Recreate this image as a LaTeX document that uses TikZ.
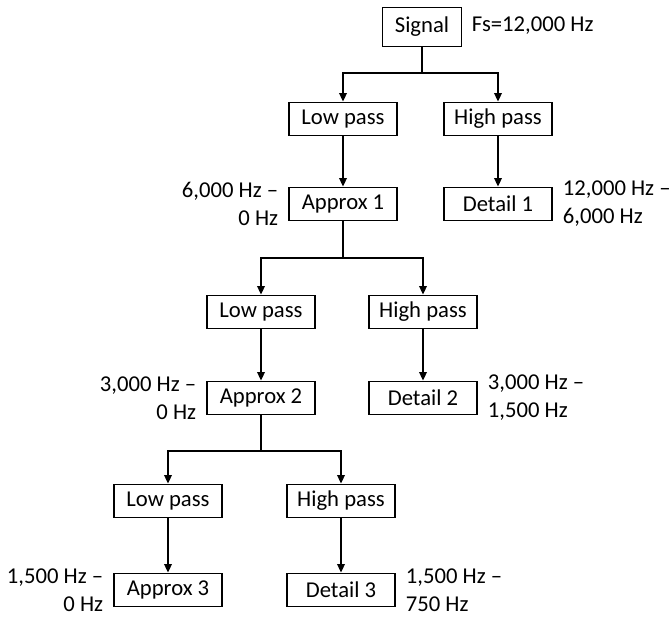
\documentclass[tikz,border=0pt]{standalone}
\usepackage{fontspec}
\setmainfont{Carlito}
\usetikzlibrary{arrows.meta}

\begin{document}
\begin{tikzpicture}[x=0.75pt, y=-0.75pt,
	every node/.style={font=\fontsize{17}{21}\selectfont},
	box/.style={draw, line width=0.9pt, minimum width=81pt, minimum height=25pt, inner sep=0pt},
	wire/.style={line width=1.8pt, -{Triangle[length=6.5pt, width=5.5pt]}},
	freq/.style={align=#1, inner sep=0pt}]
	\useasboundingbox (0,0) rectangle (671,618);
	% tree of filters
	\node[draw, line width=0.9pt, inner xsep=9pt, minimum height=29pt] (sig) at (422,27) {Signal};
	\node[box] (lp1) at (343,119) {Low pass};
	\node[box] (hp1) at (498,119) {High pass};
	\node[box] (ap1) at (343,204) {Approx 1};
	\node[box] (dt1) at (498,204) {Detail 1};
	\node[box] (lp2) at (261,312) {Low pass};
	\node[box] (hp2) at (423,312) {High pass};
	\node[box] (ap2) at (261,398) {Approx 2};
	\node[box] (dt2) at (423,398) {Detail 2};
	\node[box] (lp3) at (168,501) {Low pass};
	\node[box] (hp3) at (341,501) {High pass};
	\node[box] (ap3) at (168,590) {Approx 3};
	\node[box] (dt3) at (341,590) {Detail 3};
	% frequency bands
	\node[freq=left, anchor=west] (fs) at ([xshift=7.5pt, yshift=1pt]sig.east) {Fs=12,000 Hz};
	\node[freq=right, anchor=east] (fa1) at ([xshift=-7.5pt]ap1.west) {6,000 Hz –\\0 Hz};
	\node[freq=left, anchor=west] (fd1) at ([xshift=7.5pt]dt1.east) {12,000 Hz –\\6,000 Hz};
	\node[freq=right, anchor=east] (fa2) at ([xshift=-7.5pt]ap2.west) {3,000 Hz –\\0 Hz};
	\node[freq=left, anchor=west] (fd2) at ([xshift=7.5pt]dt2.east) {3,000 Hz –\\1,500 Hz};
	\node[freq=right, anchor=east] (fa3) at ([xshift=-7.5pt]ap3.west) {1,500 Hz –\\0 Hz};
	\node[freq=left, anchor=west] (fd3) at ([xshift=7.5pt]dt3.east) {1,500 Hz –\\750 Hz};
	% connectors
	\draw[wire] (sig.south) -- ++(0,26) coordinate (j1) -| (lp1.north);
	\draw[wire] (j1) -| (hp1.north);
	\draw[wire] (lp1) -- (ap1);
	\draw[wire] (hp1) -- (dt1);
	\draw[wire] (ap1.south) -- ++(0,37) coordinate (j2) -| (lp2.north);
	\draw[wire] (j2) -| (hp2.north);
	\draw[wire] (lp2) -- (ap2);
	\draw[wire] (hp2) -- (dt2);
	\draw[wire] (ap2.south) -- ++(0,36) coordinate (j3) -| (lp3.north);
	\draw[wire] (j3) -| (hp3.north);
	\draw[wire] (lp3) -- (ap3);
	\draw[wire] (hp3) -- (dt3);
\end{tikzpicture}
\end{document}
